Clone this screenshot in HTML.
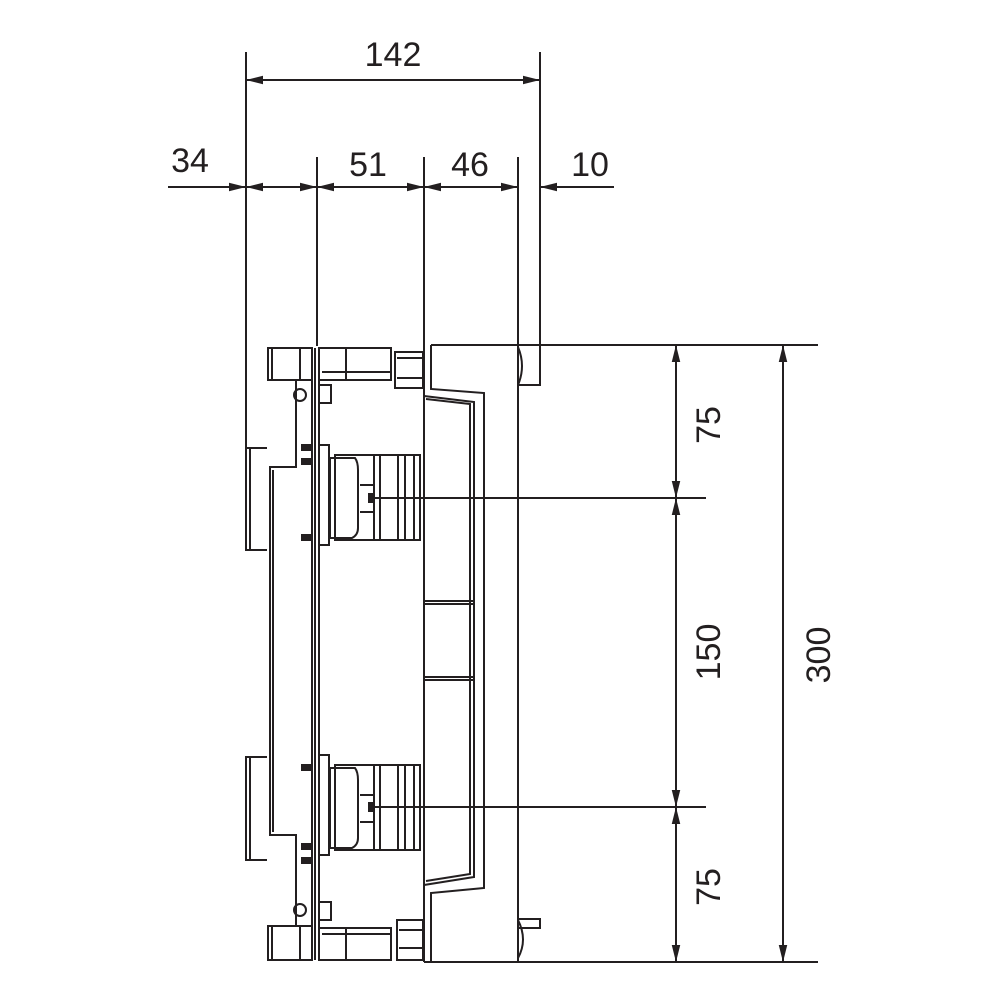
<!DOCTYPE html>
<html><head><meta charset="utf-8"><style>
html,body{margin:0;padding:0;background:#fff}
svg{display:block}
text{font-family:"Liberation Sans",sans-serif;font-size:34px;fill:#231f20}
</style></head><body>
<svg width="1000" height="1000" viewBox="0 0 1000 1000" xmlns="http://www.w3.org/2000/svg">
<defs>
<marker id="a" viewBox="0 0 16 8" refX="16" refY="4" markerWidth="17" markerHeight="9" orient="auto-start-reverse" markerUnits="userSpaceOnUse">
<path d="M0,0 L16,4 L0,8 z" fill="#231f20"/></marker>
</defs>
<g stroke="#231f20" stroke-width="2" fill="none">
<line x1="246" y1="52" x2="246" y2="448"/>
<line x1="540" y1="52" x2="540" y2="386"/>
<line x1="317" y1="157" x2="317" y2="346"/>
<line x1="424" y1="157" x2="424" y2="346"/>
<line x1="518" y1="157" x2="518" y2="346"/>
<line x1="246" y1="80" x2="540" y2="80" marker-start="url(#a)" marker-end="url(#a)"/>
<line x1="168" y1="187" x2="246" y2="187" marker-end="url(#a)"/>
<line x1="246" y1="187" x2="317" y2="187" marker-start="url(#a)" marker-end="url(#a)"/>
<line x1="317" y1="187" x2="424" y2="187" marker-start="url(#a)" marker-end="url(#a)"/>
<line x1="424" y1="187" x2="518" y2="187" marker-start="url(#a)" marker-end="url(#a)"/>
<line x1="614" y1="187" x2="540" y2="187" marker-end="url(#a)"/>
<line x1="518" y1="345" x2="818" y2="345"/>
<line x1="518" y1="962" x2="818" y2="962"/>
<line x1="372" y1="498" x2="706" y2="498"/>
<line x1="372" y1="807" x2="706" y2="807"/>
<line x1="676" y1="345" x2="676" y2="498" marker-start="url(#a)" marker-end="url(#a)"/>
<line x1="676" y1="498" x2="676" y2="807" marker-start="url(#a)" marker-end="url(#a)"/>
<line x1="676" y1="807" x2="676" y2="962" marker-start="url(#a)" marker-end="url(#a)"/>
<line x1="783" y1="345" x2="783" y2="962" marker-start="url(#a)" marker-end="url(#a)"/>

<line x1="424" y1="345" x2="424" y2="962"/>
<line x1="424" y1="962" x2="520" y2="962"/>
<line x1="431" y1="345" x2="518" y2="345"/>
<line x1="518" y1="345" x2="518" y2="962"/>
<polyline points="431,345 431,389 484,393 484,888 431,893 431,962"/>
<polyline points="424,396 474,402 474,877 424,885"/>
<polyline points="426,399 470,404 470,874 426,881"/>
<line x1="424" y1="601" x2="474" y2="601"/><line x1="424" y1="604" x2="474" y2="604"/>
<line x1="424" y1="677" x2="474" y2="677"/><line x1="424" y1="680" x2="474" y2="680"/>
<path d="M518,347 Q526,366 518,385"/>
<line x1="518" y1="385" x2="540" y2="385"/>
<path d="M518,920 Q528,940 518,958"/>
<rect x="518" y="919" width="22" height="9"/>

<polyline points="267,448 246,448 246,550 267,550"/>
<line x1="250" y1="448" x2="250" y2="550"/>
<polyline points="267,757 246,757 246,860 267,860"/>
<line x1="250" y1="757" x2="250" y2="860"/>
<polyline points="296,380 296,467 270,467 270,835 296,835 296,925"/>
<line x1="273" y1="470" x2="273" y2="832"/>
<line x1="312" y1="348" x2="312" y2="960"/>
<line x1="315" y1="348" x2="315" y2="960"/>
<line x1="319" y1="348" x2="319" y2="960"/>
<rect x="268" y="348" width="44" height="32"/>
<line x1="272" y1="348" x2="272" y2="380"/><line x1="300" y1="348" x2="300" y2="380"/>
<rect x="319" y="348" width="72" height="32"/>
<line x1="346" y1="348" x2="346" y2="380"/>
<line x1="322" y1="372" x2="391" y2="372"/>
<rect x="395" y="352" width="28" height="36"/>
<line x1="397" y1="358" x2="423" y2="358"/><line x1="397" y1="378" x2="423" y2="378"/>
<circle cx="300" cy="395" r="6"/>
<rect x="319" y="385" width="12" height="18"/>
<rect x="268" y="926" width="44" height="34"/>
<line x1="272" y1="926" x2="272" y2="960"/><line x1="300" y1="926" x2="300" y2="960"/>
<rect x="319" y="928" width="72" height="32"/>
<line x1="346" y1="928" x2="346" y2="960"/>
<line x1="322" y1="934" x2="391" y2="934"/>
<rect x="397" y="920" width="26" height="40"/>
<line x1="399" y1="930" x2="423" y2="930"/><line x1="399" y1="948" x2="423" y2="948"/>
<circle cx="300" cy="910" r="6"/>
<rect x="319" y="902" width="12" height="18"/>

<rect x="319" y="445" width="10" height="100"/>
<path d="M330,458 H355 Q358,462 358,470 V528 Q358,535 352,538 H330 Z"/>
<rect x="335" y="455" width="85" height="85"/>
<line x1="374" y1="455" x2="374" y2="540"/>
<line x1="380" y1="455" x2="380" y2="540"/>
<line x1="398" y1="455" x2="398" y2="540"/>
<line x1="405" y1="455" x2="405" y2="540"/>
<line x1="414" y1="455" x2="414" y2="540"/>
<line x1="360" y1="485" x2="374" y2="485"/><line x1="360" y1="512" x2="374" y2="512"/>
<rect x="319" y="755" width="10" height="100"/>
<path d="M330,768 H355 Q358,772 358,780 V838 Q358,845 352,848 H330 Z"/>
<rect x="335" y="765" width="85" height="85"/>
<line x1="374" y1="765" x2="374" y2="850"/>
<line x1="380" y1="765" x2="380" y2="850"/>
<line x1="398" y1="765" x2="398" y2="850"/>
<line x1="405" y1="765" x2="405" y2="850"/>
<line x1="414" y1="765" x2="414" y2="850"/>
<line x1="360" y1="795" x2="374" y2="795"/><line x1="360" y1="822" x2="374" y2="822"/>
</g>
<g fill="#231f20">
<rect x="368" y="493" width="6" height="10"/>
<rect x="368" y="802" width="6" height="10"/>
<rect x="301" y="444" width="10" height="7"/><rect x="301" y="458" width="10" height="7"/>
<rect x="301" y="534" width="10" height="7"/>
<rect x="301" y="764" width="10" height="7"/>
<rect x="301" y="843" width="10" height="7"/><rect x="301" y="857" width="10" height="7"/>
</g>
<text x="393" y="66" text-anchor="middle">142</text>
<text x="190" y="172" text-anchor="middle">34</text>
<text x="368" y="176" text-anchor="middle">51</text>
<text x="470" y="176" text-anchor="middle">46</text>
<text x="590" y="176" text-anchor="middle">10</text>
<text transform="translate(720,425) rotate(-90)" text-anchor="middle">75</text>
<text transform="translate(720,652) rotate(-90)" text-anchor="middle">150</text>
<text transform="translate(720,887) rotate(-90)" text-anchor="middle">75</text>
<text transform="translate(830,655) rotate(-90)" text-anchor="middle">300</text>
</svg>
</body></html>
